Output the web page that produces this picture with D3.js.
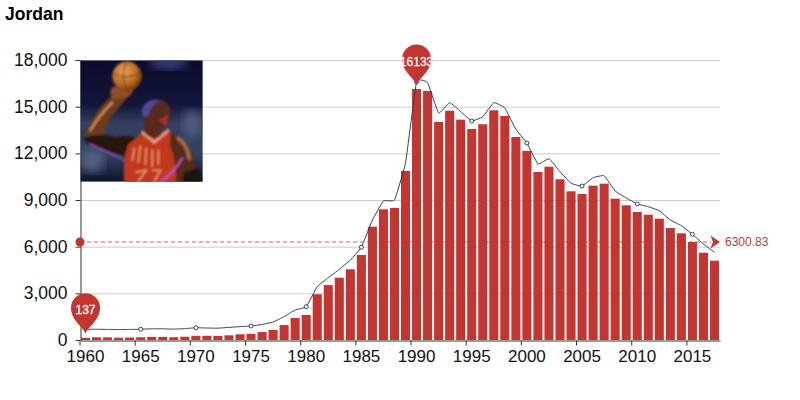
<!DOCTYPE html>
<html>
<head>
<meta charset="utf-8">
<script src="https://cdn.jsdelivr.net/npm/d3@7"></script>
<style>
  html, body { margin: 0; padding: 0; background: #fff; }
  svg { display: block; font-family: "Liberation Sans", Arial, sans-serif; }
</style>
</head>
<body>
<div id="chart"></div>
<script>
const width = 800, height = 400;

const years = d3.range(1960, 2018);
const barValues = [
  137, 170, 170, 150, 160, 175, 200, 200, 180, 210,
  270, 270, 260, 300, 370, 400, 510, 650, 960, 1420,
  1610, 2940, 3530, 4005, 4545, 5465, 7285, 8400, 8490, 10865,
  16133, 16010, 14015, 14740, 14165, 13565, 13870, 14765, 14400, 13050,
  12150, 10800, 11140, 10330, 9560, 9385, 9920, 10050, 9085, 8660,
  8230, 8055, 7800, 7200, 6860, 6300, 5610, 5100
];
const lineValues = [
  690, 690, 680, 670, 680, 690, 720, 720, 700, 730,
  790, 770, 760, 810, 860, 900, 1000, 1157, 1500, 1930,
  2140, 3430, 4000, 4545, 5140, 5960, 7715, 8940, 9000, 11380,
  16600, 16540, 14590, 15260, 14680, 14080, 14355, 15260, 14915, 13545,
  12665, 11315, 11655, 10820, 10075, 9900, 10435, 10560, 9580, 9130,
  8745, 8570, 8310, 7715, 7350, 6795, 6170, 5640
];
const yTicks = [0, 3000, 6000, 9000, 12000, 15000, 18000];
const xLabels = d3.range(1960, 2018, 5);
const averageValue = 6300.83;
const maxYear = 1990, minYear = 1960;

const red = "#c23531", navy = "#2f4554";

const x = d3.scaleBand().domain(years).range([80, 720]);
const xBar = d3.scaleBand().domain(years).range([80, 720]).paddingInner(0.18).paddingOuter(0.09);
const y = d3.scaleLinear().domain([0, 18000]).range([340, 60]);
const cx = yr => x(yr) + x.bandwidth() / 2;

const svg = d3.select("#chart").append("svg")
  .attr("width", width)
  .attr("height", height)
  .attr("viewBox", [0, 0, width, height]);

svg.append("text")
  .attr("x", 5).attr("y", 20)
  .attr("font-size", 17.5).attr("font-weight", "bold").attr("fill", "#000")
  .text("Jordan");

// grid
svg.append("g").selectAll("line")
  .data(yTicks.slice(1))
  .join("line")
  .attr("x1", 80).attr("x2", 720)
  .attr("y1", d => y(d) + 0.5).attr("y2", d => y(d) + 0.5)
  .attr("stroke", "#ccc");

// bars
const bars = years.map((yr, i) => ({ yr, v: barValues[i] }));
svg.append("g").selectAll("rect")
  .data(bars)
  .join("rect")
  .attr("x", d => xBar(d.yr))
  .attr("width", xBar.bandwidth())
  .attr("y", d => y(d.v))
  .attr("height", d => y(0) - y(d.v))
  .attr("fill", red);

// axes
const gy = svg.append("g")
  .attr("transform", "translate(80.5,0)")
  .call(d3.axisLeft(y).tickValues(yTicks).tickFormat(d3.format(",")).tickSizeInner(5).tickSizeOuter(0).tickPadding(8));
gy.selectAll("text").attr("font-size", 17.5).attr("fill", "#111").attr("font-family", "inherit");
gy.selectAll("line,path").attr("stroke", "#333");

const gx = svg.append("g")
  .attr("transform", "translate(0,340.5)")
  .call(d3.axisBottom(x).tickValues(xLabels).tickSizeInner(5).tickSizeOuter(0).tickPadding(4));
gx.selectAll("text").attr("font-size", 17).attr("fill", "#111").attr("font-family", "inherit");
gx.selectAll("path").attr("stroke", "#333");
// ticks sit on the band edge, labels stay centred
gx.selectAll(".tick line").attr("x1", -x.bandwidth() / 2).attr("x2", -x.bandwidth() / 2).attr("stroke", "#333");

// picture in the top left corner, drawn by hand
const defs = svg.append("defs");
const bg = defs.append("linearGradient").attr("id", "photoBg").attr("x1", 0).attr("x2", 0).attr("y1", 0).attr("y2", 1);
[[0, "#0c0d2c"], [0.36, "#12143a"], [0.52, "#343f60"], [0.78, "#33405f"], [1, "#10132a"]].forEach(s =>
  bg.append("stop").attr("offset", s[0]).attr("stop-color", s[1]));
defs.append("filter").attr("id", "soft").append("feGaussianBlur").attr("stdDeviation", 0.8);
defs.append("filter").attr("id", "softer").append("feGaussianBlur").attr("stdDeviation", 5);
defs.append("clipPath").attr("id", "photoClip").append("rect").attr("width", 122.5).attr("height", 121.5);
const ballGrad = defs.append("radialGradient").attr("id", "ballGrad").attr("cx", 0.4).attr("cy", 0.35).attr("r", 0.7);
[[0, "#eaa45a"], [0.6, "#bb6c22"], [1, "#6d3310"]].forEach(s =>
  ballGrad.append("stop").attr("offset", s[0]).attr("stop-color", s[1]));

const photo = svg.append("g")
  .attr("transform", "translate(80.3,60.3)")
  .attr("clip-path", "url(#photoClip)");
photo.append("rect").attr("width", 122.5).attr("height", 121.5).attr("fill", "url(#photoBg)");
photo.append("ellipse").attr("cx", 88).attr("cy", 2).attr("rx", 18).attr("ry", 7)
  .attr("fill", "#39407a").attr("filter", "url(#softer)");
photo.append("ellipse").attr("cx", 12).attr("cy", 100).attr("rx", 12).attr("ry", 12)
  .attr("fill", "#51607f").attr("filter", "url(#softer)");
photo.append("ellipse").attr("cx", 112).attr("cy", 64).attr("rx", 10).attr("ry", 14)
  .attr("fill", "#4d5a7c").attr("filter", "url(#softer)");
const art = photo.append("g").attr("filter", "url(#soft)");
const shapes = [
  ["M4 76 Q8 66 14 56 Q22 44 30 37 L47 37 Q42 44 36 50 Q28 58 23 74 Z", "#6e3a1f"],
  ["M10 70 Q18 56 32 42", "none", "#c98a55", 2.5],
  ["M2 78 Q18 72 36 77 Q48 74 56 78 L54 101 Q46 95 34 93 Q14 90 2 78 Z", "#27160f"],
  ["M10 84 Q28 92 46 101", "none", "#a24cc0", 1.5],
  ["M31 38 Q28 28 34 26 L53 27 Q53 34 47 37 Q40 40 31 38 Z", "#8f4f2a"],
  ["M48 84 Q54 80 62 72 L74 78 L86 70 L94 74 Q100 90 98 122 L44 122 Q42 100 48 84 Z", "#c1371f"],
  ["M62 72 L74 82 L88 70", "none", "#e8a08c", 2.5],
  ["M54 88 L52 100 M60 86 L58 102 M66 88 L65 104 M72 90 L72 106 M78 90 L78 104 M56 112 L66 110 L58 121 M72 110 L80 110 L74 121", "none", "#e89a72", 1.6],
  ["M90 72 Q104 76 112 94 Q116 108 120 122 L96 122 Q96 100 90 86 Z", "#54291a"],
  ["M98 78 Q107 84 109 98", "none", "#a5674a", 4],
  ["M80 122 Q94 112 102 98", "none", "#c05cc8", 1.8],
  ["M104 112 L118 108 L122 122 L102 122 Z", "#141210"],
  ["M64 72 L64 60 Q60 50 66 44 Q72 39 82 40 Q90 42 90 52 Q90 62 84 66 L80 76 Q70 80 64 72 Z", "#56291a"],
  ["M62 56 Q60 46 68 41 Q74 38 80 40 Q70 44 68 56 Z", "#4f4a96"],
  ["M78 60 L88 54 L86 66 Z", "#a5312a"]
];
art.selectAll("path")
  .data(shapes)
  .join("path")
  .attr("d", d => d[0])
  .attr("fill", d => d[1])
  .attr("stroke", d => d[2] || "none")
  .attr("stroke-width", d => d[3] || 0)
  .attr("stroke-linecap", "round");
art.append("circle").attr("cx", 46.7).attr("cy", 16).attr("r", 14.7).attr("fill", "url(#ballGrad)");
art.append("path").attr("d", "M33 13 Q46 20 61 12 M46 2 Q40 16 47 31").attr("fill", "none")
  .attr("stroke", "#5d2c0d").attr("stroke-width", 0.8);

// line
const lineData = years.map((yr, i) => ({ yr, v: lineValues[i] }));
const line = d3.line().x(d => cx(d.yr)).y(d => y(d.v)).curve(d3.curveCardinal.tension(0.7));
svg.append("path")
  .datum(lineData)
  .attr("fill", "none")
  .attr("stroke", navy)
  .attr("stroke-width", 1)
  .attr("d", line);
svg.append("g").selectAll("circle")
  .data(lineData.filter(d => d.yr % 5 === 0 && d.yr > 1960))
  .join("circle")
  .attr("cx", d => cx(d.yr))
  .attr("cy", d => y(d.v))
  .attr("r", 2)
  .attr("fill", "#fff")
  .attr("stroke", navy)
  .attr("stroke-width", 1);

// average mark line
const avgY = y(averageValue);
svg.append("line")
  .attr("x1", 80).attr("x2", 711)
  .attr("y1", avgY).attr("y2", avgY)
  .attr("stroke", red).attr("stroke-opacity", 0.8)
  .attr("stroke-width", 1.2)
  .attr("stroke-dasharray", "4,3");
svg.append("circle").attr("cx", 80).attr("cy", avgY).attr("r", 4.5).attr("fill", red);
svg.append("path")
  .attr("transform", `translate(720,${avgY})`)
  .attr("d", "M0 0 L-9.5 -6.5 L-7 0 L-9.5 6.5 Z")
  .attr("fill", red);
svg.append("text")
  .attr("x", 725).attr("y", avgY + 4)
  .attr("font-size", 12).attr("fill", "#b5403f")
  .text(averageValue);

// max and min pins
function pin(yr, value) {
  const r = 14.5, c = 26, p = d3.path();
  p.moveTo(0, 0);
  p.bezierCurveTo(2, -7, r, -13, r, -c);
  p.arc(0, -c, r, 0, Math.PI, true);
  p.bezierCurveTo(-r, -13, -2, -7, 0, 0);
  p.closePath();
  const g = svg.append("g").attr("transform", `translate(${cx(yr)},${y(value) - 4})`);
  g.append("path").attr("d", p.toString()).attr("fill", red);
  g.append("text")
    .attr("y", -19.5).attr("text-anchor", "middle")
    .attr("font-size", 12).attr("fill", "#fff")
    .attr("stroke", "#fff").attr("stroke-width", 0.3)
    .text(value);
}
pin(maxYear, barValues[years.indexOf(maxYear)]);
pin(minYear, barValues[years.indexOf(minYear)]);
</script>
</body>
</html>
